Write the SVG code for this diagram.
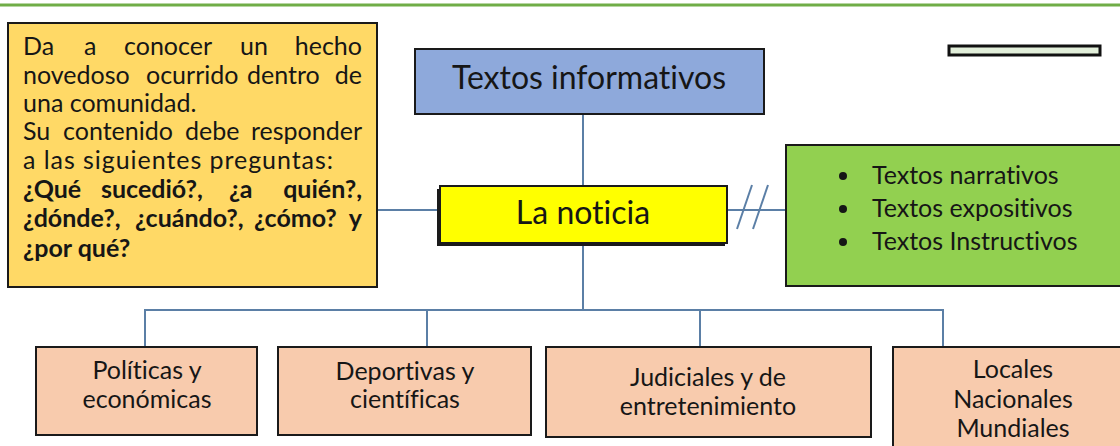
<svg xmlns="http://www.w3.org/2000/svg" width="1120" height="446" viewBox="0 0 1120 446">
<style>
.box{stroke:#1a1a1a;stroke-width:2}
.t{font-family:Lato,"Open Sans","Liberation Sans",sans-serif;fill:#161616;font-variant-ligatures:none}
.conn{stroke:#5B7FA6;stroke-width:2;fill:none}
.b{font-weight:bold}
.m{text-anchor:middle}
.e{text-anchor:end}
</style>
<rect x="0" y="0" width="1120" height="446" fill="#ffffff"/>
<line x1="0" y1="5" x2="1120" y2="5" stroke="#70AD47" stroke-width="3"/>
<g id="connectors">
<line class="conn" x1="583" y1="114" x2="583" y2="186"/>
<line class="conn" x1="377" y1="210" x2="440" y2="210"/>
<line class="conn" x1="727" y1="210" x2="786" y2="210"/>
<line class="conn" x1="737" y1="229" x2="752" y2="185"/>
<line class="conn" x1="753" y1="229" x2="768" y2="185"/>
<line class="conn" x1="583" y1="244" x2="583" y2="310"/>
<polyline class="conn" points="145,347 145,310 943,310 943,347"/>
<line class="conn" x1="427" y1="310" x2="427" y2="347"/>
<line class="conn" x1="700" y1="310" x2="700" y2="347"/>
</g>
<g id="nodeDefinicion">
<rect class="box" x="8" y="23" width="369" height="264" fill="#FFD966"/>
<g class="t" font-size="25">
<text y="55"><tspan x="23">Da</tspan><tspan x="84">a</tspan><tspan x="124">conocer</tspan><tspan x="240">un</tspan></text>
<text class="e" x="362" y="55">hecho</text>
<text y="84"><tspan x="23">novedoso</tspan><tspan x="146">ocurrido</tspan><tspan x="247">dentro</tspan></text>
<text class="e" x="362" y="84">de</text>
<text x="23" y="112">una comunidad.</text>
<text y="140"><tspan x="23">Su</tspan><tspan x="63">contenido</tspan><tspan x="185">debe</tspan></text>
<text class="e" x="362" y="140">responder</text>
<text x="23" y="169" textLength="310" lengthAdjust="spacing">a las siguientes preguntas:</text>
<text class="b" y="198"><tspan x="23">¿Qué</tspan><tspan x="101">sucedió?,</tspan><tspan x="229">¿a</tspan></text>
<text class="b e" x="362" y="198">quién?,</text>
<text class="b" y="227"><tspan x="23">¿dónde?,</tspan><tspan x="135">¿cuándo?,</tspan><tspan x="254">¿cómo?</tspan></text>
<text class="b e" x="362" y="227">y</text>
<text class="b" x="23" y="257">¿por qué?</text>
</g>
</g>
<g id="nodeTextosInformativos">
<rect class="box" x="415" y="49" width="349" height="65" fill="#8EA9DB"/>
<text class="t m" x="589" y="89" font-size="32">Textos informativos</text>
</g>
<g id="nodeNoticia">
<rect x="437" y="189" width="288" height="57" fill="#1a1a1a"/>
<rect class="box" x="440" y="186" width="287" height="57" fill="#FFFF00"/>
<text class="t m" x="583" y="224" font-size="32">La noticia</text>
</g>
<g id="nodeOtrosTextos">
<rect class="box" x="786" y="145" width="340" height="141" fill="#92D050"/>
<g class="t" font-size="25">
<circle cx="843" cy="176" r="4" fill="#161616"/>
<circle cx="843" cy="209" r="4" fill="#161616"/>
<circle cx="843" cy="242" r="4" fill="#161616"/>
<text x="872" y="184">Textos narrativos</text>
<text x="872" y="217">Textos expositivos</text>
<text x="872" y="250">Textos Instructivos</text>
</g>
</g>
<g id="nodeBarra">
<rect x="949" y="46" width="151" height="9" fill="#E2EFDA" stroke="#111" stroke-width="3"/>
</g>
<g class="t m" font-size="25">
<g id="nodePoliticas">
<rect class="box" x="36" y="347" width="221" height="88" fill="#F8CBAD"/>
<text x="147" y="379">Políticas y</text>
<text x="147" y="408">económicas</text>
</g>
<g id="nodeDeportivas">
<rect class="box" x="278" y="347" width="253" height="88" fill="#F8CBAD"/>
<text x="405" y="380">Deportivas y</text>
<text x="405" y="408">científicas</text>
</g>
<g id="nodeJudiciales">
<rect class="box" x="546" y="347" width="325" height="90" fill="#F8CBAD"/>
<text x="708" y="386">Judiciales y de</text>
<text x="708" y="415">entretenimiento</text>
</g>
<g id="nodeLocales">
<rect class="box" x="893" y="347" width="240" height="110" fill="#F8CBAD"/>
<text x="1013" y="378">Locales</text>
<text x="1013" y="408">Nacionales</text>
<text x="1013" y="437">Mundiales</text>
</g>
</g>
</svg>
